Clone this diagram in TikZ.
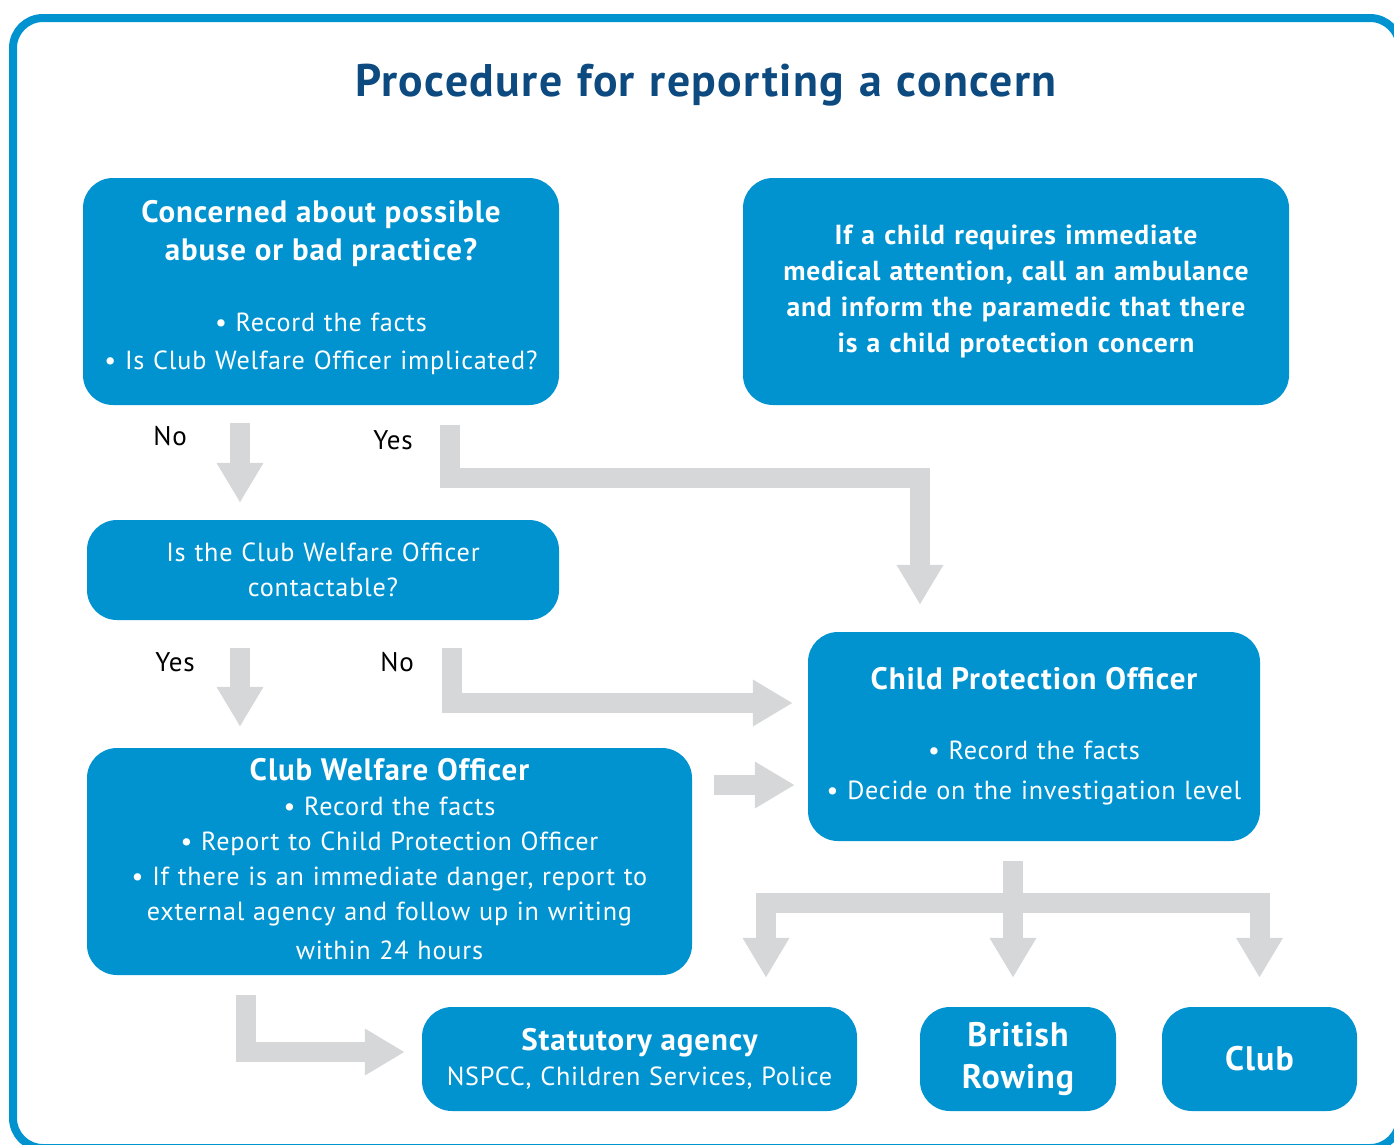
\documentclass[tikz,border=0pt]{standalone}
\usepackage{fontspec}
\setmainfont{PT Sans}[LetterSpace=3, WordSpace=1.15]
\usetikzlibrary{arrows.meta}

\definecolor{boxblue}{RGB}{0,147,208}
\definecolor{titleblue}{RGB}{12,74,128}
\definecolor{arrowgray}{RGB}{214,215,217}

\tikzset{
  box/.style={fill=boxblue, text=white, rounded corners=30pt, align=center, inner sep=0pt},
  flow/.style={draw=arrowgray, line width=20pt, line join=miter, -{Triangle[width=44pt,length=40pt]}},
  lbl/.style={font=\fontsize{27}{30}\selectfont},
}

\newcommand{\headfont}{\bfseries\fontsize{31}{38}\selectfont}
\newcommand{\lowstrut}[1]{\rule[-#1]{0pt}{0pt}}

\begin{document}
\begin{tikzpicture}[x=1pt,y=-1pt]
  \useasboundingbox (0,0) rectangle (1394,1144);
  % frame and title
  \draw[boxblue, line width=8pt, rounded corners=30pt] (13,18) rectangle (1400,1148);
  \node[text=titleblue, font=\bfseries\fontsize{45.7}{50}\selectfont] (title) at (706,85) {Procedure for reporting a concern};

  % boxes
  \node[box, text width=476pt, minimum height=227pt, font=\fontsize{26.2}{38}\selectfont] (concern) at (321,291.5)
    {{\headfont Concerned about possible}\\ {\headfont abuse or bad practice?}\\[33pt]
     • Record the facts\\ • Is Club Welfare Officer implicated?\lowstrut{14pt}};
  \node[box, text width=546pt, minimum height=227pt, font=\bfseries\fontsize{27.6}{36}\selectfont] (medical) at (1016,291.5)
    {If a child requires immediate\\ medical attention, call an ambulance\\
     and inform the paramedic that there\\ is a child protection concern};
  \node[box, text width=472pt, minimum height=100pt, font=\fontsize{26.2}{35}\selectfont] (contact) at (323,570)
    {Is the Club Welfare Officer\\ contactable?};
  \node[box, text width=452pt, minimum height=209pt, font=\fontsize{26.2}{40}\selectfont] (cpo) at (1034,736.5)
    {{\headfont Child Protection Officer}\\[30pt]
     • Record the facts\\ • Decide on the investigation level};
  \node[box, text width=605pt, minimum height=227pt, font=\fontsize{26.2}{35}\selectfont] (cwo) at (389.5,861.5)
    {{\headfont Club Welfare Officer}\\
     • Record the facts\\ • Report to Child Protection Officer\\
     • If there is an immediate danger, report to\\ external agency and follow up in writing\\[4pt] within 24 hours\lowstrut{6pt}};
  \node[box, text width=435pt, minimum height=104pt, font=\fontsize{26.2}{35}\selectfont] (statutory) at (639.5,1059)
    {{\headfont Statutory agency}\\ NSPCC, Children Services, Police};
  \node[box, text width=196pt, minimum height=104pt, font=\bfseries\fontsize{34}{42}\selectfont] (rowing) at (1018,1059)
    {British\\ Rowing};
  \node[box, text width=195pt, minimum height=104pt, font=\bfseries\fontsize{34}{42}\selectfont] (club) at (1259.5,1059)
    {Club};

  % labels
  \node[lbl] (no1) at (170,436) {No};
  \node[lbl] (yes1) at (393,440) {Yes};
  \node[lbl] (yes2) at (175,662) {Yes};
  \node[lbl] (no2) at (397,662) {No};

  % arrow ends
  \coordinate (noStart) at ([shift={(-81,18)}]concern.south);
  \coordinate (yesStart) at ([shift={(129,20)}]concern.south);
  \coordinate (yesEnd) at ([shift={(-114,-27)}]cpo.north);
  \coordinate (yes2Start) at ([shift={(-83,28)}]contact.south);
  \coordinate (no2Start) at ([shift={(129,28)}]contact.south);
  \coordinate (no2End) at ([shift={(-15,-33.5)}]cpo.west);
  \coordinate (cwoStart) at ([shift={(22,-76.5)}]cwo.east);
  \coordinate (fork) at ([shift={(-21,20)}]cpo.south);
  \coordinate (tipA) at ([shift={(126.5,-29)}]statutory.north);
  \coordinate (tipB) at ([shift={(-5,-29)}]rowing.north);
  \coordinate (tipC) at ([shift={(0,-29)}]club.north);
  \coordinate (extStart) at ([shift={(-143.5,20)}]cwo.south);
  \coordinate (extEnd) at ([shift={(-17,-7)}]statutory.west);

  % arrows
  \draw[flow] (noStart) -- ([yshift=17pt]noStart |- contact.north);
  \draw[flow] (yesStart) -- ++(0,53) -| (yesEnd);
  \draw[flow] (yes2Start) -- ([yshift=21pt]yes2Start |- cwo.north);
  \draw[flow] (no2Start) |- (no2End);
  \draw[flow] (cwoStart) -- ([xshift=-13pt]cwoStart -| cpo.west);
  \draw[flow] (fork) -- ++(0,42) -| (tipA);
  \draw[flow] (fork) -- (tipB);
  \draw[flow] (fork) -- ++(0,42) -| (tipC);
  \draw[flow] (extStart) |- (extEnd);
\end{tikzpicture}
\end{document}
